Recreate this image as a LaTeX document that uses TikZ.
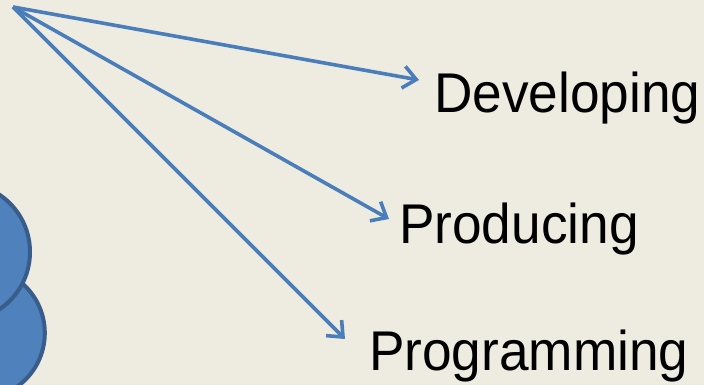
\documentclass[tikz,border=0pt]{standalone}
\usepackage{fontspec}
\setmainfont{Liberation Sans}
\usetikzlibrary{arrows.meta}
\definecolor{bgtan}{HTML}{EEECE1}
\definecolor{arrowblue}{HTML}{4A7EBB}
\definecolor{cloudfill}{HTML}{4F81BD}
\definecolor{cloudline}{HTML}{385D8A}
\tikzset{
  conn/.style={draw=arrowblue, line width=3.6pt, -{Straight Barb[length=13pt,width=22pt,line width=3.6pt]}},
  label/.style={anchor=base west, inner sep=0pt, font=\fontsize{56}{60}\selectfont},
  blob/.style={fill=cloudfill, draw=cloudline, line width=4pt}
}
\begin{document}
\begin{tikzpicture}[x=1pt,y=-1pt]
\fill[bgtan] (0,0) rectangle (704,385);
\useasboundingbox (0,0) rectangle (704,385);
\begin{scope}
\clip (0,0) rectangle (704,385);
\draw[blob] (-21,333) circle[radius=65.8];
\draw[blob] (-39,252) circle[radius=69];
\end{scope}
\coordinate (src) at (13,7);
\node[label] (dev) at (434,113) {\scalebox{0.95}[1]{Developing}};
\node[label] (prod) at (399,243) {\scalebox{0.95}[1]{Producing}};
\node[label] (prog) at (369,370) {\scalebox{0.95}[1]{Programming}};
\coordinate (tdev) at (419,80);
\coordinate (tprod) at (389,219);
\coordinate (tprog) at (345,339);
\draw[conn] (src) -- (tdev);
\draw[conn] (src) -- (tprod);
\draw[conn] (src) -- (tprog);
\end{tikzpicture}
\end{document}
